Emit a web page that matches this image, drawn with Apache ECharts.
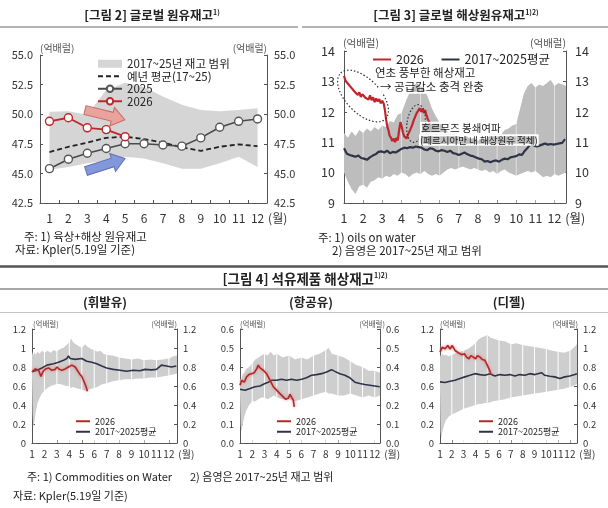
<!DOCTYPE html>
<html><head><meta charset="utf-8">
<script src="https://cdn.jsdelivr.net/npm/echarts@6/dist/echarts.min.js"></script>
<style>html,body{margin:0;padding:0;background:#fff}#c{width:608px;height:508px}</style>
</head><body><div id="c"></div>
<script>
// ---------- Figure 2 : global crude inventory (monthly) ----------
const p1Months = ['1','2','3','4','5','6','7','8','9','10','11','12'];
const p1BandLow  = [45.3,45.55,45.85,46.1,46.4,46.25,45.85,45.4,45.4,45.85,46.4,45.55];
const p1BandHigh = [50.2,50.25,49.95,52.05,52.65,52.3,51.5,50.8,50.35,50.25,50.35,50.5];
const p1Avg   = [46.8,47.25,47.6,48.0,48.1,47.9,47.6,47.2,46.9,47.25,47.45,47.3];
const p1Y2025 = [45.4,46.2,46.7,47.1,47.5,47.5,47.4,47.3,48.0,48.9,49.4,49.6];
const p1Y2026 = [49.4,49.7,48.85,48.7,48.1];

// ---------- Figure 3 : oil on water (x = month position) ----------
const p2NewX = [1.00,1.08,1.16,1.24,1.32,1.40,1.48,1.56,1.64,1.72,1.80,1.88,1.96,2.04,2.12,2.20,2.28,2.36,2.44,2.52,2.60,2.68,2.76,2.84,2.92,3.00,3.08,3.14,3.20,3.26,3.32,3.38,3.45,3.52,3.60,3.67,3.74,3.81,3.88,3.95,4.02,4.08,4.14,4.20,4.27,4.34,4.41,4.48,4.56,4.64,4.72,4.80,4.88,4.96,5.04,5.10,5.17,5.24,5.31,5.38,5.45,5.50];
const p2NewY = [13.18,13.02,13.06,12.90,12.94,12.78,12.82,12.66,12.70,12.55,12.64,12.49,12.58,12.62,12.46,12.52,12.40,12.54,12.38,12.48,12.32,12.44,12.34,12.42,12.28,12.36,12.26,12.05,11.75,11.52,11.40,11.22,11.15,11.04,11.12,11.00,11.14,11.06,11.40,11.66,11.50,11.32,11.20,11.26,11.12,11.24,11.30,11.44,11.56,11.72,11.84,11.96,12.04,12.12,12.00,12.10,11.96,12.06,11.88,11.76,11.66,11.60];
const p2AvgX = [1.00,1.15,1.30,1.45,1.60,1.75,1.90,2.05,2.20,2.35,2.50,2.65,2.80,2.95,3.10,3.25,3.40,3.55,3.70,3.85,4.00,4.15,4.30,4.45,4.60,4.75,4.90,5.05,5.20,5.35,5.50,5.65,5.80,5.95,6.10,6.25,6.40,6.55,6.70,6.85,7.00,7.15,7.30,7.45,7.60,7.75,7.90,8.05,8.20,8.35,8.50,8.65,8.80,8.95,9.10,9.25,9.40,9.55,9.70,9.85,10.00,10.15,10.30,10.45,10.60,10.75,10.90,11.05,11.20,11.35,11.50,11.65,11.80,11.95,12.10,12.25,12.40,12.55];
const p2AvgY = [10.80,10.62,10.58,10.55,10.52,10.56,10.48,10.46,10.42,10.50,10.56,10.60,10.68,10.70,10.66,10.72,10.64,10.68,10.66,10.72,10.78,10.82,10.80,10.84,10.82,10.86,10.84,10.82,10.76,10.74,10.80,10.78,10.72,10.70,10.74,10.72,10.68,10.72,10.64,10.62,10.58,10.62,10.66,10.60,10.56,10.54,10.50,10.46,10.44,10.36,10.38,10.34,10.38,10.40,10.36,10.42,10.46,10.44,10.50,10.52,10.54,10.60,10.58,10.72,10.82,10.94,10.90,10.86,10.88,10.92,10.96,10.92,10.94,10.92,10.94,10.96,10.98,11.10];
const p2BandX = [1.0,1.2,1.4,1.6,1.8,2.0,2.2,2.4,2.6,2.8,3.0,3.2,3.4,3.6,3.8,4.0,4.2,4.4,4.6,4.8,5.0,5.2,5.4,5.6,5.8,6.0,6.2,6.4,6.6,6.8,7.0,7.2,7.4,7.6,7.8,8.0,8.2,8.4,8.6,8.8,9.0,9.2,9.4,9.6,9.8,10.0,10.2,10.4,10.6,10.8,11.0,11.2,11.4,11.6,11.8,12.0,12.2,12.4,12.6];
const p2BandHigh = [11.30,11.15,11.35,11.20,11.40,11.30,11.45,11.35,11.50,11.40,11.55,11.50,11.70,11.65,11.90,11.95,12.30,12.60,12.85,12.95,12.85,12.75,12.45,12.10,11.85,11.65,11.50,11.35,11.30,11.25,11.20,11.15,11.20,11.10,11.15,11.05,11.15,11.10,11.20,11.25,11.30,11.25,11.40,11.45,11.55,11.60,12.10,12.60,12.85,12.95,12.80,12.90,12.85,12.95,13.05,12.85,12.95,12.90,12.85];
const p2BandLow  = [10.00,9.70,9.45,9.30,9.55,9.60,9.50,9.70,9.75,9.85,9.80,9.90,9.85,9.95,9.90,10.00,9.95,9.85,9.95,10.00,9.95,10.05,9.95,9.90,9.95,9.90,10.00,10.10,10.15,10.10,10.15,10.20,10.15,10.10,10.15,10.10,10.05,10.10,10.00,10.05,9.95,10.05,10.10,10.00,9.95,9.90,9.95,10.00,10.05,10.00,10.05,9.95,9.85,9.90,9.85,9.95,9.90,9.95,10.00];
const gridMonths = [2,3,4,5,6,7,8,9,10,11,12];

// ---------- Figure 4 : products on water ----------
// gasoline
const p3BandX = [1.0,1.05,1.1,1.2,1.3,1.45,1.6,1.8,2.0,2.25,2.5,2.75,3.0,3.25,3.5,3.75,4.0,4.15,4.3,4.5,4.75,5.0,5.25,5.5,5.75,6.0,6.25,6.5,6.75,7.0,7.5,8.0,8.5,9.0,9.5,10.0,10.5,11.0,11.5,12.0,12.3,12.65];
const p3BandHigh = [0.92,0.96,0.93,0.95,0.93,0.96,0.94,0.97,0.95,0.97,0.95,0.98,0.96,0.99,1.00,1.03,1.06,1.10,1.06,1.04,1.02,1.00,1.04,1.01,0.99,0.98,0.96,0.97,0.94,0.93,0.92,0.90,0.89,0.88,0.89,0.87,0.88,0.87,0.88,0.89,0.91,0.92];
const p3BandLow  = [0.70,0.30,0.17,0.22,0.33,0.42,0.47,0.52,0.55,0.58,0.60,0.61,0.62,0.62,0.61,0.60,0.60,0.58,0.59,0.58,0.57,0.56,0.55,0.56,0.57,0.58,0.59,0.61,0.62,0.63,0.65,0.66,0.67,0.67,0.68,0.68,0.69,0.69,0.70,0.71,0.72,0.73];
const p3AvgX = [1.0,1.4,1.8,2.2,2.73,3.13,3.53,3.8,3.93,4.07,4.47,5.0,5.4,5.8,6.2,6.6,7.0,7.53,8.07,8.6,9.13,9.67,10.07,10.6,11.0,11.4,11.8,12.2,12.6];
const p3AvgY = [0.75,0.765,0.79,0.82,0.835,0.85,0.87,0.89,0.915,0.89,0.88,0.89,0.86,0.85,0.835,0.81,0.79,0.775,0.765,0.755,0.765,0.76,0.775,0.77,0.775,0.82,0.81,0.80,0.81];
const p3NewX = [1.0,1.27,1.53,1.72,1.88,2.07,2.33,2.6,2.87,3.0,3.21,3.4,3.67,3.93,4.2,4.33,4.47,4.6,4.81,5.0,5.19,5.35,5.45];
const p3NewY = [0.75,0.78,0.765,0.70,0.75,0.78,0.79,0.765,0.775,0.80,0.775,0.765,0.78,0.80,0.82,0.835,0.80,0.78,0.73,0.70,0.645,0.59,0.545];
// jet fuel
const p4BandX = [1.0,1.05,1.1,1.2,1.35,1.5,1.75,2.0,2.25,2.5,2.75,3.0,3.25,3.5,3.75,4.0,4.5,5.0,5.5,6.0,6.5,7.0,7.5,8.0,8.25,8.5,9.0,9.5,10.0,10.5,11.0,11.5,12.0,12.43];
const p4BandHigh = [0.32,0.34,0.33,0.36,0.37,0.39,0.40,0.42,0.44,0.45,0.46,0.47,0.46,0.48,0.46,0.47,0.45,0.46,0.44,0.45,0.44,0.46,0.47,0.49,0.50,0.47,0.46,0.45,0.43,0.41,0.40,0.38,0.38,0.37];
const p4BandLow  = [0.26,0.10,0.06,0.09,0.14,0.17,0.20,0.22,0.22,0.23,0.24,0.24,0.23,0.24,0.25,0.24,0.23,0.23,0.22,0.23,0.24,0.25,0.26,0.27,0.26,0.26,0.25,0.25,0.26,0.25,0.24,0.25,0.24,0.25];
const p4AvgX = [1.0,1.41,1.82,2.22,2.63,3.04,3.31,3.58,3.99,4.40,4.80,5.21,5.62,6.03,6.43,6.84,7.25,7.66,8.07,8.47,8.74,9.15,9.56,9.97,10.38,10.78,11.19,11.60,12.01,12.41];
const p4AvgY = [0.283,0.278,0.287,0.296,0.30,0.313,0.32,0.33,0.33,0.336,0.33,0.336,0.33,0.336,0.343,0.357,0.36,0.365,0.374,0.386,0.377,0.365,0.357,0.343,0.32,0.313,0.308,0.304,0.30,0.296];
const p4NewX = [1.0,1.14,1.35,1.54,1.73,1.95,2.17,2.36,2.49,2.63,2.77,2.90,3.04,3.17,3.31,3.53,3.72,3.99,4.26,4.53,4.72,4.94,5.08,5.21,5.35,5.43];
const p4NewY = [0.304,0.33,0.32,0.348,0.36,0.365,0.37,0.39,0.41,0.395,0.40,0.383,0.39,0.365,0.348,0.32,0.296,0.278,0.26,0.243,0.23,0.235,0.256,0.26,0.226,0.19];
// diesel
const p5BandX = [1.0,1.04,1.1,1.2,1.35,1.5,1.75,2.0,2.5,3.0,3.5,4.0,4.25,4.5,4.75,5.0,5.25,5.5,6.0,6.5,7.0,7.5,8.0,8.5,9.0,9.5,10.0,10.5,11.0,11.5,12.0,12.3,12.6];
const p5BandHigh = [0.90,0.93,0.92,0.94,0.92,0.93,0.91,0.93,0.95,0.97,1.00,1.05,1.09,1.11,1.12,1.14,1.11,1.10,1.08,1.07,1.04,1.05,1.03,1.02,1.01,1.00,0.99,0.97,0.96,0.95,0.97,1.00,1.04];
const p5BandLow  = [0.55,0.12,0.05,0.12,0.19,0.24,0.28,0.30,0.33,0.36,0.38,0.40,0.41,0.41,0.42,0.42,0.43,0.44,0.45,0.46,0.48,0.49,0.50,0.51,0.52,0.53,0.54,0.55,0.56,0.57,0.59,0.60,0.62];
const p5AvgX = [1.0,1.42,1.85,2.27,2.69,3.11,3.54,3.96,4.38,4.80,5.23,5.65,6.07,6.49,6.92,7.34,7.76,8.18,8.61,9.03,9.59,9.87,10.30,10.72,11.14,11.56,11.99,12.41,12.6];
const p5AvgY = [0.643,0.637,0.65,0.66,0.678,0.696,0.713,0.73,0.72,0.713,0.73,0.706,0.72,0.713,0.72,0.706,0.72,0.713,0.73,0.72,0.74,0.713,0.703,0.696,0.678,0.696,0.706,0.72,0.73];
const p5NewX = [1.0,1.20,1.42,1.65,1.85,2.04,2.27,2.55,2.83,3.06,3.25,3.45,3.62,3.82,4.01,4.18,4.38,4.58,4.80,4.94,5.14,5.31];
const p5NewY = [0.957,1.01,0.99,1.026,0.99,1.026,0.974,0.95,0.93,0.94,0.904,0.887,0.92,0.904,0.887,0.92,0.904,0.88,0.87,0.835,0.783,0.73];

// ---------- rendering ----------
const F = '"Noto Sans CJK KR","Noto Sans",sans-serif';
const AX = '#555';
const chart = echarts.init(document.getElementById('c'), null, {renderer:'canvas', width:608, height:508});

function yAx(g, pos, min, max, interval, fs, margin, fmt){
  const a = {type:'value', gridIndex:g, position:pos, min:min, max:max, interval:interval,
    splitLine:{show:false},
    axisLine:{show:true, onZero:false, lineStyle:{color:AX, width:1}},
    axisTick:{show:true, inside:true, length:3, lineStyle:{color:AX}},
    axisLabel:{fontSize:fs, color:'#333', margin:margin, fontFamily:F}};
  if (fmt) a.axisLabel.formatter = fmt;
  return a;
}
function xVal(g, max, fs, margin, gap){
  return {type:'value', gridIndex:g, min:1, max:max, interval:1, splitLine:{show:false},
    axisLine:{show:true, onZero:false, lineStyle:{color:AX}},
    axisTick:{show:true, inside:true, length:3, lineStyle:{color:AX}},
    axisLabel:{fontSize:fs, color:'#333', margin:margin, fontFamily:F,
      formatter:function(v){ return Number.isInteger(v) ? String(v) : ''; }},
    name:'(월)', nameLocation:'end', nameGap:gap,
    nameTextStyle:{fontSize:fs, color:'#333', fontFamily:F, verticalAlign:'top', padding:[margin,0,0,0]}};
}
function band(g, xs, lo, hi, color, name){
  return {type:'custom', name:name, xAxisIndex:g, yAxisIndex:2*g, z:1, silent:true,
    itemStyle:{color:color}, data:[[xs[0], lo[0]]],
    renderItem:function(p, api){
      const top = xs.map(function(x,k){ return api.coord([x, hi[k]]); });
      const bot = xs.map(function(x,k){ return api.coord([x, lo[k]]); }).reverse();
      return {type:'polygon', shape:{points:top.concat(bot)}, style:{fill:color}};
    }};
}
function vlines(g, ms, color){
  return {type:'custom', xAxisIndex:g, yAxisIndex:2*g, z:2, silent:true,
    data:ms.map(function(m){ return [m, 0]; }),
    renderItem:function(p, api){
      const x = api.coord([api.value(0), 0])[0];
      const cs = p.coordSys;
      return {type:'line', shape:{x1:x, y1:cs.y, x2:x, y2:cs.y+cs.height}, style:{stroke:color, lineWidth:1}};
    }};
}
function pairs(xs, ys){ return xs.map(function(x,k){ return [x, ys[k]]; }); }
function ln(g, name, xs, ys, color, width, extra){
  return Object.assign({type:'line', name:name, xAxisIndex:g, yAxisIndex:2*g, z:3,
    data:pairs(xs, ys), symbol:'none', silent:true, animation:false,
    lineStyle:{color:color, width:width}, itemStyle:{color:color}}, extra||{});
}
const RED = '#c0262c', DARK = '#2f3347';
const redGlow = {lineStyle:{color:'#b0282a', width:1.6, shadowColor:'rgba(235,110,110,0.9)', shadowBlur:3}, itemStyle:{color:'#b0282a'}};

const grids = [
  {left:40, top:55, width:227, height:148},
  {left:344, top:51, width:222, height:152},
  {left:32, top:329, width:145, height:114},
  {left:240, top:329, width:140, height:114},
  {left:440, top:329, width:137, height:114}
].map(function(g){ return Object.assign({outerBoundsMode:'none', containLabel:false}, g); });

const f1 = function(v){ return v.toFixed(1); };
const yAxes = [
  yAx(0,'left',42.5,55,2.5,11,7,f1), yAx(0,'right',42.5,55,2.5,11,7,f1),
  yAx(1,'left',9,14,1,12.5,9), yAx(1,'right',9,14,1,12.5,9),
  yAx(2,'left',0,1.2,0.2,9.5,6), yAx(2,'right',0,1.2,0.2,9.5,6),
  yAx(3,'left',0,0.6,0.1,9.5,6,f1), yAx(3,'right',0,0.6,0.1,9.5,6,f1),
  yAx(4,'left',0,1.2,0.2,9.5,6), yAx(4,'right',0,1.2,0.2,9.5,6)
];
const xAxes = [
  {type:'category', gridIndex:0, data:p1Months, boundaryGap:true,
    axisLine:{show:true, onZero:false, lineStyle:{color:AX}},
    axisTick:{show:true, inside:true, length:3, interval:0, lineStyle:{color:AX}},
    axisLabel:{fontSize:12, color:'#333', margin:9, interval:0, fontFamily:F},
    name:'(월)', nameLocation:'end', nameGap:1,
    nameTextStyle:{fontSize:12, color:'#333', fontFamily:F, verticalAlign:'top', padding:[9,0,0,0]}},
  xVal(1, 12.6, 12.5, 9, -3),
  xVal(2, 12.65, 10, 6, -4),
  xVal(3, 12.43, 10, 6, -1),
  xVal(4, 12.6, 10, 6, -3)
];

const p1Idx = p1Months.map(function(_, k){ return k; });
const series = [
  band(0, p1Idx, p1BandLow, p1BandHigh, '#d5d5d5', '2017~25년 재고 범위'),
  {type:'line', name:'예년 평균(17~25)', xAxisIndex:0, yAxisIndex:0, z:3, data:p1Avg, symbol:'none',
    lineStyle:{color:'#222', width:1.8, type:[5,3]}, itemStyle:{color:'#222'}},
  {type:'line', name:'2025', xAxisIndex:0, yAxisIndex:0, z:3, data:p1Y2025, symbol:'circle', symbolSize:8,
    lineStyle:{color:'#4a4a4a', width:1.6}, itemStyle:{color:'#fff', borderColor:'#555', borderWidth:1.4}},
  {type:'line', name:'2026', xAxisIndex:0, yAxisIndex:0, z:4, data:p1Y2026, symbol:'circle', symbolSize:8,
    lineStyle:{color:RED, width:1.8}, itemStyle:{color:'#fff', borderColor:RED, borderWidth:1.4}},

  band(1, p2BandX, p2BandLow, p2BandHigh, '#bdbdbd'),
  vlines(1, gridMonths, 'rgba(255,255,255,0.55)'),
  ln(1, '2017~2025평균', p2AvgX, p2AvgY, DARK, 2.2),
  ln(1, '2026 ', p2NewX, p2NewY, RED, 2.2),

  band(2, p3BandX, p3BandLow, p3BandHigh, '#cecece'),
  vlines(2, gridMonths, '#ffffff'),
  ln(2, '2017~2025평균 ', p3AvgX, p3AvgY, DARK, 1.6),
  ln(2, '2026  ', p3NewX, p3NewY, RED, 1.6, redGlow),

  band(3, p4BandX, p4BandLow, p4BandHigh, '#cecece'),
  vlines(3, gridMonths, '#ffffff'),
  ln(3, '2017~2025평균  ', p4AvgX, p4AvgY, DARK, 1.6),
  ln(3, '2026   ', p4NewX, p4NewY, RED, 1.6, redGlow),

  band(4, p5BandX, p5BandLow, p5BandHigh, '#cecece'),
  vlines(4, gridMonths, '#ffffff'),
  ln(4, '2017~2025평균   ', p5AvgX, p5AvgY, DARK, 1.6),
  ln(4, '2026    ', p5NewX, p5NewY, RED, 1.6, redGlow)
];

const noDot = {itemStyle:{opacity:0}};
function it(name){ return Object.assign({name:name}, noDot); }
function lg(left, top, orient, iw, ih, gap, fs, lh, names){
  return {left:left, top:top, orient:orient, itemWidth:iw, itemHeight:ih, itemGap:gap, selectedMode:false,
    padding:0, textStyle:{fontSize:fs, lineHeight:lh, color:'#222', fontFamily:F}, data:names};
}
const legends = [
  lg(97, 58, 'vertical', 24, 8, 1, 11.5, 11.5, [{name:'2017~25년 재고 범위', icon:'rect'}, it('예년 평균(17~25)'), '2025', '2026']),
  lg(372, 53, 'horizontal', 18, 8, 14, 12.5, 13, [it('2026 '), it('2017~2025평균')]),
  lg(75, 416, 'vertical', 14, 6, 0, 9, 10.5, [it('2026  '), it('2017~2025평균 ')]),
  lg(276, 416, 'vertical', 14, 6, 0, 9, 10.5, [it('2026   '), it('2017~2025평균  ')]),
  lg(478, 416, 'vertical', 14, 6, 0, 9, 10.5, [it('2026    '), it('2017~2025평균   ')])
];

function T(x, y, text, o){
  return {type:'text', x:x, y:y, z:30, silent:true,
    style:Object.assign({text:text, fill:'#222', fontSize:12, fontFamily:F, align:'left', verticalAlign:'middle'}, o||{})};
}
function HL(x1, x2, y, w, c){
  return {type:'line', z:30, silent:true, shape:{x1:x1, y1:y, x2:x2, y2:y}, style:{stroke:c, lineWidth:w}};
}
function arrow(x, y, rot, fill, stroke){
  return {type:'polygon', x:x, y:y, rotation:rot, z:25, silent:true,
    shape:{points:[[0,-4.5],[28,-4.5],[28,-9.5],[41,0],[28,9.5],[28,4.5],[0,4.5]]},
    style:{fill:fill, stroke:stroke, lineWidth:1}};
}
function ell(cx, cy, rx, ry, rot){
  return {type:'ellipse', x:cx, y:cy, rotation:rot, z:26, silent:true, shape:{cx:0, cy:0, rx:rx, ry:ry},
    style:{fill:null, stroke:'#333', lineWidth:1.2, lineDash:[1.5,2]}};
}
const sup = {s:{fontSize:7, fontWeight:'bold', verticalAlign:'top', fontFamily:F}};
const tBold = {fontWeight:'bold', fontSize:12.5, align:'center'};
const halo = {textBorderColor:'#fff', textBorderWidth:2};

const graphics = [
  HL(0, 298, 27, 1.5, '#9a9a9a'), HL(302, 608, 27, 1.5, '#9a9a9a'),
  HL(0, 608, 266.5, 2.5, '#555'), HL(0, 608, 289, 1.5, '#8a8a8a'), HL(0, 608, 312.5, 1, '#c4c4c4'),
  T(152, 15, '[그림 2] 글로벌 원유재고{s|1)}', Object.assign({rich:sup}, tBold)),
  T(456, 15, '[그림 3] 글로벌 해상원유재고{s|1)2)}', Object.assign({rich:sup}, tBold)),
  T(305, 279, '[그림 4] 석유제품 해상재고{s|1)2)}', Object.assign({rich:sup}, tBold, {fontSize:13.5})),
  T(105, 302, '(휘발유)', tBold), T(311, 302, '(항공유)', tBold), T(509, 302, '(디젤)', tBold),
  // units
  T(40, 48, '(억배럴)', {fontSize:10, fill:'#555'}), T(267, 48, '(억배럴)', {fontSize:10, fill:'#555', align:'right'}),
  T(343, 43, '(억배럴)', {fontSize:10.5, fill:'#555'}), T(566, 43, '(억배럴)', {fontSize:10.5, fill:'#555', align:'right'}),
  T(33, 324, '(억배럴)', {fontSize:7.5, fill:'#555'}), T(177, 324, '(억배럴)', {fontSize:7.5, fill:'#555', align:'right'}),
  T(240, 324, '(억배럴)', {fontSize:7.5, fill:'#555'}), T(385, 324, '(억배럴)', {fontSize:7.5, fill:'#555', align:'right'}),
  T(440, 324, '(억배럴)', {fontSize:7.5, fill:'#555'}), T(578, 324, '(억배럴)', {fontSize:7.5, fill:'#555', align:'right'}),
  // notes
  T(24, 237, '주: 1) 육상+해상 원유재고', {fontSize:11.5}),
  T(15, 250, '자료: Kpler(5.19일 기준)', {fontSize:11.5}),
  T(318, 238, '주: 1) oils on water', {fontSize:11.5}),
  T(332, 251, '2) 음영은 2017~25년 재고 범위', {fontSize:11.5}),
  T(27, 477, '주: 1) Commodities on Water', {fontSize:11}),
  T(190, 477, '2) 음영은 2017~25년 재고 범위', {fontSize:11}),
  T(13, 496, '자료: Kpler(5.19일 기준)', {fontSize:11}),
  // annotations fig 3
  T(375, 73, '연초 풍부한 해상재고', Object.assign({fontSize:11.5}, halo)),
  T(380, 87, '→ 공급감소 충격 완충', Object.assign({fontSize:11.5}, halo)),
  T(421, 128, '호르무즈 봉쇄여파', Object.assign({fontSize:10.5}, halo)),
  T(420, 140, '(페르시아만 내 해상원유 적체)', Object.assign({fontSize:9.5}, halo)),
  ell(363, 96, 32, 17, -0.8),
  ell(416, 123.5, 9, 19, -0.15),
  // arrows fig 2
  arrow(85, 110, -0.24, '#e9a29c', '#c66a64'),
  arrow(86, 171, 0.31, '#8497da', '#5e70b8')
];

chart.setOption({
  backgroundColor:'#fff', animation:false,
  textStyle:{fontFamily:F},
  grid:grids, xAxis:xAxes, yAxis:yAxes, legend:legends, series:series, graphic:graphics
});
</script></body></html>
